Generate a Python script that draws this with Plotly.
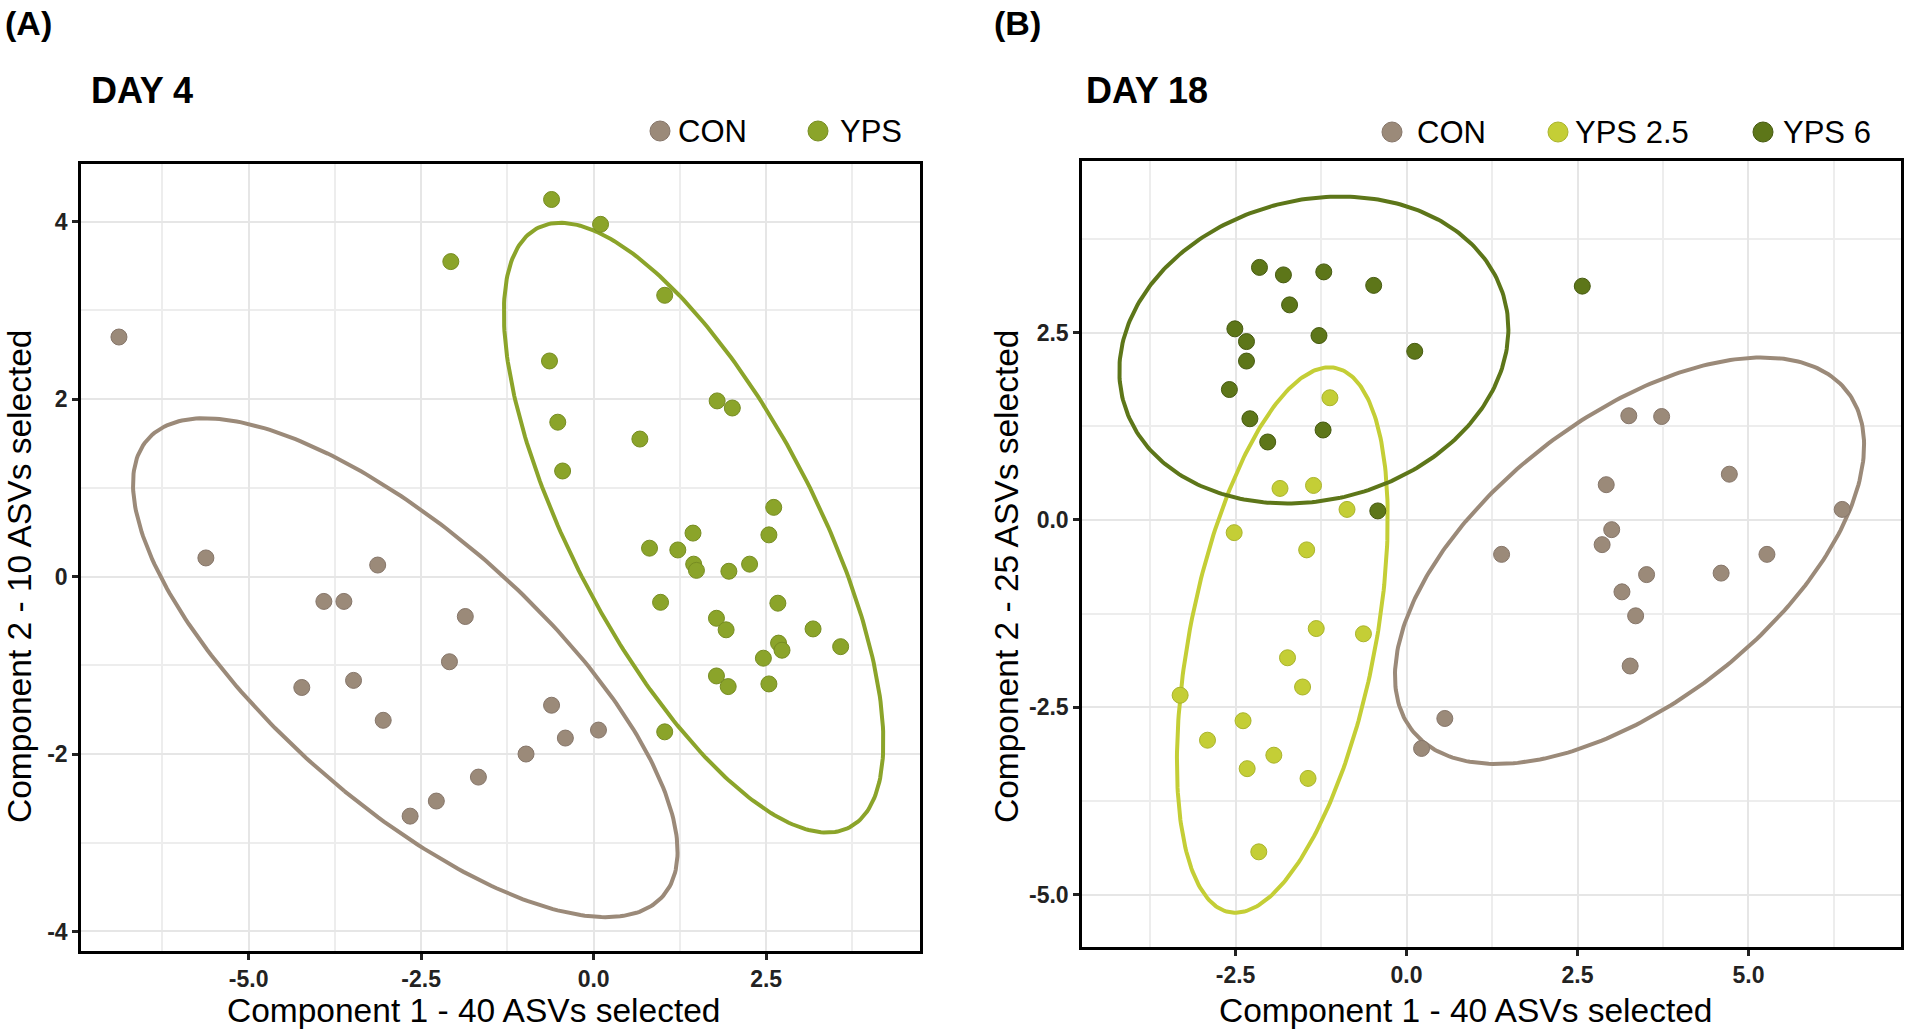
import numpy as np
import plotly.graph_objects as go

W, H = 1908, 1032

# ---- DAY 4 (panel A) ----
day4_con_x = [-6.88, -5.62, -3.13, -3.91, -3.62, -1.86, -2.09, -4.23, -3.48, -3.05,
              -1.67, -2.28, -2.66, -0.61, -0.41, -0.98, 0.07]
day4_con_y = [2.70, 0.21, 0.13, -0.28, -0.28, -0.45, -0.96, -1.25, -1.17, -1.62,
              -2.26, -2.53, -2.70, -1.45, -1.82, -2.00, -1.73]
day4_yps_x = [-2.07, -0.61, 0.10, 1.03, -0.64, 1.79, 2.01, 0.67, -0.52, -0.45, 2.61,
              2.54, 1.44, 0.81, 1.22, 1.45, 1.49, 1.96, 2.26, 0.97, 2.67, 1.78, 1.92,
              3.18, 2.68, 2.73, 3.58, 2.46, 1.78, 1.95, 2.54, 1.03]
day4_yps_y = [3.55, 4.25, 3.97, 3.17, 2.43, 1.98, 1.90, 1.55, 1.74, 1.19, 0.78, 0.47,
              0.49, 0.32, 0.30, 0.14, 0.07, 0.06, 0.14, -0.29, -0.30, -0.47, -0.60,
              -0.59, -0.75, -0.83, -0.79, -0.92, -1.12, -1.24, -1.21, -1.75]

# ---- DAY 18 (panel B) ----
day18_con_x = [1.39, 3.25, 3.73, 2.92, 4.72, 6.37, 3.00, 2.86, 3.51, 5.27, 4.60, 3.15,
               3.35, 3.27, 0.56, 0.22]
day18_con_y = [-0.46, 1.39, 1.38, 0.47, 0.61, 0.14, -0.13, -0.33, -0.73, -0.46, -0.71,
               -0.96, -1.28, -1.95, -2.65, -3.05]
day18_yps25_x = [-1.12, -1.85, -1.36, -0.87, -2.52, -1.46, -1.32, -0.63, -1.74, -1.52,
                 -3.31, -2.39, -2.91, -1.94, -2.33, -1.44, -2.16]
day18_yps25_y = [1.63, 0.42, 0.46, 0.14, -0.17, -0.40, -1.45, -1.52, -1.84, -2.23,
                 -2.34, -2.68, -2.94, -3.14, -3.32, -3.45, -4.43]
day18_yps6_x = [-2.15, -1.80, -1.21, -0.48, -1.71, -2.51, -2.34, -1.28, 0.12, -2.34,
                -2.59, -2.29, -1.22, -2.03, -0.42, 2.57]
day18_yps6_y = [3.37, 3.27, 3.31, 3.13, 2.87, 2.55, 2.38, 2.46, 2.25, 2.12, 1.74, 1.35,
                1.20, 1.04, 0.12, 3.12]

# tick labels
day4_xticks = [-5.0, -2.5, 0.0, 2.5]
day4_xlabels = ['-5.0', '-2.5', '0.0', '2.5']
day4_yticks = [-4, -2, 0, 2, 4]
day4_ylabels = ['-4', '-2', '0', '2', '4']
day18_xticks = [-2.5, 0.0, 2.5, 5.0]
day18_xlabels = ['-2.5', '0.0', '2.5', '5.0']
day18_yticks = [-5.0, -2.5, 0.0, 2.5]
day18_ylabels = ['-5.0', '-2.5', '0.0', '2.5']

groups_day4 = ['CON', 'YPS']
groups_day18 = ['CON', 'YPS 2.5', 'YPS 6']

colors = {'CON': '#9b8a79', 'YPS': '#8ba42a', 'YPS 2.5': '#c4ce36', 'YPS 6': '#5d7619'}
edges = {'CON': '#86766a', 'YPS': '#778d22', 'YPS 2.5': '#aab42c', 'YPS 6': '#465a10'}

FONT = 'Liberation Sans, Arial, Helvetica, sans-serif'


def ellipse(x, y, level=0.9, n=300):
    # data ellipse around the group mean (normal approx.)
    pts = np.column_stack([x, y])
    mu = pts.mean(axis=0)
    vals, vecs = np.linalg.eigh(np.cov(pts.T))
    r = np.sqrt(-2 * np.log(1 - level))
    t = np.linspace(0, 2 * np.pi, n)
    circ = np.vstack([np.cos(t), np.sin(t)])
    e = vecs @ (np.sqrt(vals)[:, None] * circ) * r + mu[:, None]
    return e[0], e[1]


def px(x):
    return x / W


def py(y):
    return 1 - y / H


fig = go.Figure()

panels = [
    ('x', 'y', [('CON', day4_con_x, day4_con_y), ('YPS', day4_yps_x, day4_yps_y)]),
    ('x2', 'y2', [('CON', day18_con_x, day18_con_y), ('YPS 2.5', day18_yps25_x, day18_yps25_y),
                  ('YPS 6', day18_yps6_x, day18_yps6_y)]),
]
for xa, ya, series in panels:
    for name, xs, ys in series:
        ex, ey = ellipse(xs, ys)
        fig.add_trace(go.Scatter(x=ex, y=ey, mode='lines', xaxis=xa, yaxis=ya,
                                 line=dict(color=colors[name], width=4),
                                 hoverinfo='skip', showlegend=False))
    for name, xs, ys in series:
        fig.add_trace(go.Scatter(x=xs, y=ys, mode='markers', xaxis=xa, yaxis=ya, name=name,
                                 marker=dict(size=16, color=colors[name],
                                             line=dict(color=edges[name], width=1)),
                                 showlegend=False))

axis_common = dict(
    showline=True, mirror=True, linecolor='black', linewidth=2.5,
    ticks='outside', ticklen=6, tickwidth=2.5, tickcolor='#222222',
    showgrid=True, gridcolor='#e6e6e6', gridwidth=2, zeroline=False,
    tickfont=dict(family=FONT, size=23, color='#222222', weight='bold'),
)

fig.update_layout(
    width=W, height=H, autosize=False,
    margin=dict(l=0, r=0, t=0, b=0),
    paper_bgcolor='white', plot_bgcolor='white',
    showlegend=False,
    xaxis=dict(domain=[px(81), px(920)], range=[-7.43, 4.73], anchor='y',
               tickmode='array', tickvals=day4_xticks, ticktext=day4_xlabels,
               minor=dict(tick0=0, dtick=1.25, showgrid=True, gridcolor='#ededed',
                          gridwidth=1.5, ticks=''),
               **axis_common),
    yaxis=dict(domain=[py(951), py(164)], range=[-4.22, 4.65], anchor='x',
               tickmode='array', tickvals=day4_yticks, ticktext=day4_ylabels,
               minor=dict(tick0=0, dtick=1, showgrid=True, gridcolor='#ededed',
                          gridwidth=1.5, ticks=''),
               **axis_common),
    xaxis2=dict(domain=[px(1082), px(1901)], range=[-4.745, 7.23], anchor='y2',
                tickmode='array', tickvals=day18_xticks, ticktext=day18_xlabels,
                minor=dict(tick0=0, dtick=1.25, showgrid=True, gridcolor='#ededed',
                           gridwidth=1.5, ticks=''),
                **axis_common),
    yaxis2=dict(domain=[py(947), py(161)], range=[-5.70, 4.79], anchor='x2',
                tickmode='array', tickvals=day18_yticks, ticktext=day18_ylabels,
                minor=dict(tick0=0, dtick=1.25, showgrid=True, gridcolor='#ededed',
                           gridwidth=1.5, ticks=''),
                **axis_common),
)

ann = []


def text(s, x, y, size, bold=False, anchor='left', angle=0):
    ann.append(dict(text=s, x=px(x), y=py(y), xref='paper', yref='paper',
                    xanchor=anchor, yanchor='middle', showarrow=False, textangle=angle,
                    font=dict(family=FONT, size=size, color='black',
                              weight='bold' if bold else 'normal')))


# panel letters and titles
text('(A)', 3, 23, 34, bold=True)
text('(B)', 992, 23, 34, bold=True)
text('DAY 4', 89, 90, 36, bold=True)
text('DAY 18', 1084, 90, 36, bold=True)

# axis titles
text('Component 1 - 40 ASVs selected', 474, 1010, 33.5, anchor='center')
text('Component 1 - 40 ASVs selected', 1466, 1010, 33.5, anchor='center')
text('Component 2 - 10 ASVs selected', 19, 576, 33.5, anchor='center', angle=-90)
text('Component 2 - 25 ASVs selected', 1006, 576, 33.5, anchor='center', angle=-90)

# legends
shapes = []
legend_pos = [
    (groups_day4, [660, 818], [676, 838], 131),
    (groups_day18, [1392, 1558, 1763], [1415, 1573, 1781], 132),
]
for names, dots, labels, yy in legend_pos:
    for name, dx, lx in zip(names, dots, labels):
        shapes.append(dict(type='circle', xref='paper', yref='paper',
                           xsizemode='pixel', ysizemode='pixel',
                           xanchor=px(dx), yanchor=py(yy), x0=-10, x1=10, y0=-10, y1=10,
                           fillcolor=colors[name], line=dict(color=edges[name], width=1)))
        text(name, lx, yy, 31)

fig.update_layout(annotations=ann, shapes=shapes)

fig.write_html("out.html", config={'displayModeBar': False},
               post_script="document.body.style.margin='0';")
